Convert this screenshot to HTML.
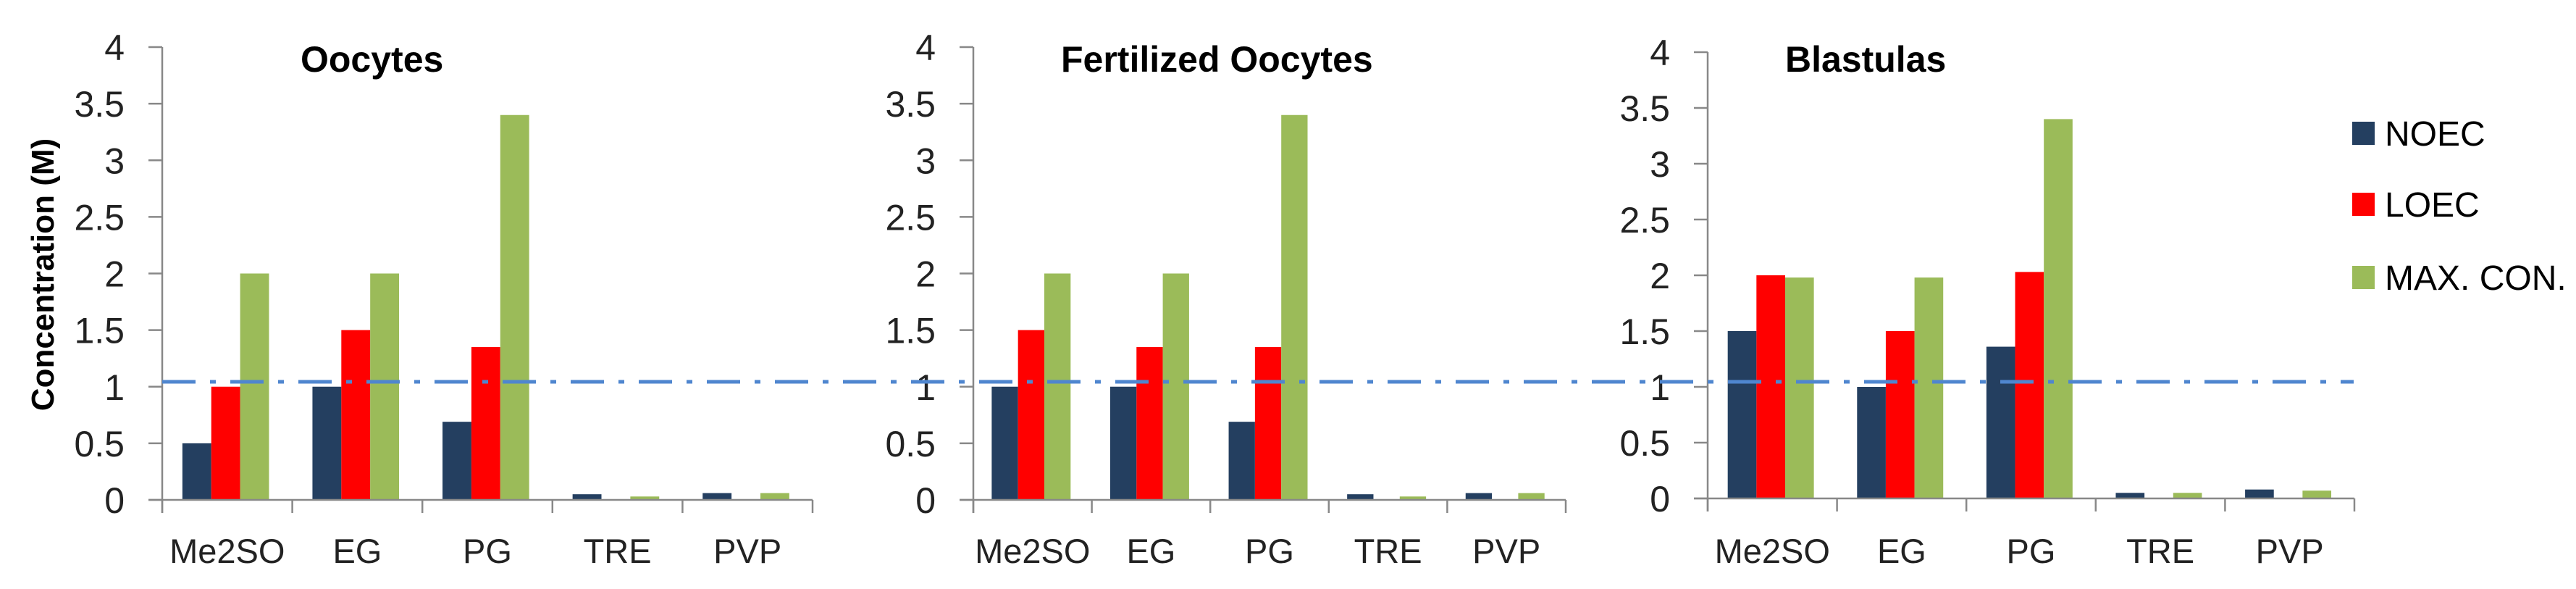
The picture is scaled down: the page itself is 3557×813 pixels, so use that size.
<!DOCTYPE html>
<html><head><meta charset="utf-8">
<style>
html,body{margin:0;padding:0;background:#fff;}
svg{display:block;font-family:"Liberation Sans",sans-serif;}
</style></head>
<body>
<svg id="chart" width="3557" height="813" viewBox="0 0 3557 813" xmlns="http://www.w3.org/2000/svg">
<text x="0" y="0" transform="translate(74,379) rotate(-90)" text-anchor="middle" font-size="44" font-weight="bold" fill="#000">Concentration (M)</text>
<g id="panels"></g>
<line x1="224" x2="3250" y1="527" y2="527" stroke="#4F86CF" stroke-width="5" stroke-dasharray="46,20,8,20"/>
<g>
  <rect x="3248" y="168" width="31" height="32" fill="#243F60"/>
  <text x="3293" y="201" font-size="48">NOEC</text>
  <rect x="3248" y="266" width="31" height="32" fill="#FF0000"/>
  <text x="3293" y="299" font-size="48">LOEC</text>
  <rect x="3248" y="367" width="31" height="32" fill="#9BBB59"/>
  <text x="3293" y="400" font-size="48">MAX. CON.</text>
</g>
</svg>
<script>
const categories = ["Me2SO","EG","PG","TRE","PVP"];
const yTicks = [0,0.5,1,1.5,2,2.5,3,3.5,4];
const yTickLabels = ["0","0.5","1","1.5","2","2.5","3","3.5","4"];
const panelTitles = ["Oocytes","Fertilized Oocytes","Blastulas"];
const oocytesNOEC = [0.5,1,0.69,0.05,0.06];
const oocytesLOEC = [1,1.5,1.35,0,0];
const oocytesMAX = [2,2,3.4,0.03,0.06];
const fertNOEC = [1,1,0.69,0.05,0.06];
const fertLOEC = [1.5,1.35,1.35,0,0];
const fertMAX = [2,2,3.4,0.03,0.06];
const blastNOEC = [1.5,1,1.36,0.05,0.08];
const blastLOEC = [2,1.5,2.03,0,0];
const blastMAX = [1.98,1.98,3.4,0.05,0.07];

const seriesColors = ["#243F60","#FF0000","#9BBB59"];
const seriesNames = ["noec","loec","max-con"];
const layouts = [
  {x0:224,x1:1122,y0:690,y4:65,titleX:415},
  {x0:1344,x1:2162,y0:690,y4:65,titleX:1465},
  {x0:2358,x1:3251,y0:688,y4:72,titleX:2465}
];
const panelData = [
  [oocytesNOEC,oocytesLOEC,oocytesMAX],
  [fertNOEC,fertLOEC,fertMAX],
  [blastNOEC,blastLOEC,blastMAX]
];
const NS="http://www.w3.org/2000/svg";
const root=document.getElementById('panels');
function mk(tag,attrs,parent){const e=document.createElementNS(NS,tag);for(const k in attrs)e.setAttribute(k,attrs[k]);parent.appendChild(e);return e;}

layouts.forEach((L,p)=>{
  const g=mk('g',{},root);
  
  
  const y=v=>L.y0-(L.y0-L.y4)*v/4;
  const band=(L.x1-L.x0)/categories.length;
  const bw=band*0.222, off=band*0.155;
  const x=(i,s)=>L.x0+i*band+off+s*bw;
  // title
  const t=mk('text',{x:L.titleX,y:99,'font-size':50,'font-weight':'bold',fill:'#000'},g);
  
  
  t.textContent=panelTitles[p];
  // bars
  panelData[p].forEach((arr,s)=>{
    arr.forEach((v,i)=>{
      if(v<=0)return;
      const r=mk('rect',{x:x(i,s),y:y(v),width:bw,height:L.y0-y(v),fill:seriesColors[s]},g);
      
      
    });
  });
  // y axis
  const ya=mk('line',{x1:L.x0,x2:L.x0,y1:y(4),y2:L.y0+18,stroke:'#888',"stroke-width":2.5},g);
  
  
  yTicks.forEach((v,k)=>{
    const tk=mk('line',{x1:L.x0-19,x2:L.x0,y1:y(v),y2:y(v),stroke:'#888',"stroke-width":2.5},g);
    
    
    const lb=mk('text',{x:L.x0-52+Math.min(0,0),y:y(v)+18,'text-anchor':'end','font-size':50,fill:'#222'},g);
    
    
    lb.textContent=yTickLabels[k];
  });
  // x axis
  const xa=mk('line',{x1:L.x0-19,x2:L.x1,y1:L.y0,y2:L.y0,stroke:'#888',"stroke-width":2.5},g);
  
  
  for(let i=0;i<=categories.length;i++){
    const tk=mk('line',{x1:L.x0+i*band,x2:L.x0+i*band,y1:L.y0,y2:L.y0+18,stroke:'#888',"stroke-width":2.5},g);
    
    
  }
  categories.forEach((c,i)=>{
    const lb=mk('text',{x:L.x0+(i+0.5)*band,y:777,'text-anchor':'middle','font-size':47,fill:'#222'},g);
    
    
    lb.textContent=c;
  });
});
</script>
</body></html>
